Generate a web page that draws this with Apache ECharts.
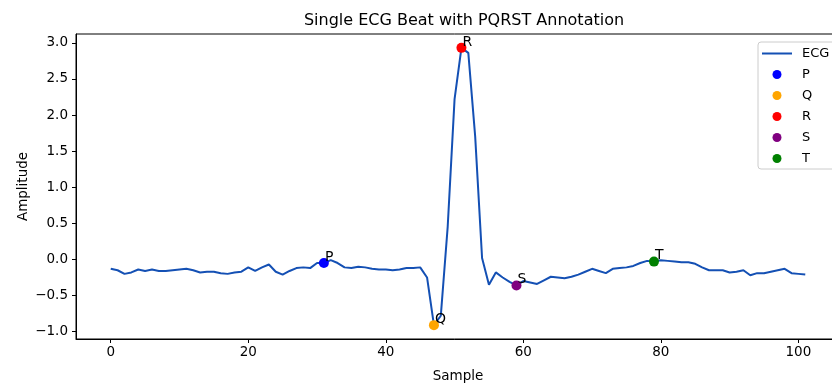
<!DOCTYPE html>
<html>
<head>
<meta charset="utf-8">
<script src="https://cdn.jsdelivr.net/npm/echarts@6/dist/echarts.min.js"></script>
<style>html,body{margin:0;padding:0;background:#fff}#c{width:832px;height:383px}</style>
</head>
<body>
<div id="c"></div>
<script>
// ECG amplitude per sample (sample index = position in array, 0..101)
const ecgValues = [
  -0.13, -0.15, -0.20, -0.18, -0.14, -0.16, -0.14, -0.16, -0.16, -0.15,
  -0.14, -0.13, -0.15, -0.18, -0.17, -0.17, -0.19, -0.20, -0.18, -0.17,
  -0.11, -0.16, -0.11, -0.07, -0.17, -0.21, -0.16, -0.12, -0.11, -0.12,
  -0.05, -0.05, -0.01, -0.05, -0.11, -0.12, -0.10, -0.11, -0.13, -0.14,
  -0.14, -0.15, -0.14, -0.12, -0.12, -0.11, -0.25, -0.91, -0.78, 0.45,
  2.22, 2.93, 2.86, 1.70, 0.02, -0.35, -0.18, -0.25, -0.31, -0.36,
  -0.30, -0.32, -0.34, -0.29, -0.24, -0.25, -0.26, -0.24, -0.21, -0.17,
  -0.13, -0.16, -0.19, -0.13, -0.12, -0.11, -0.09, -0.05, -0.02, -0.03,
  -0.01, -0.02, -0.03, -0.04, -0.04, -0.06, -0.11, -0.15, -0.15, -0.15,
  -0.18, -0.17, -0.15, -0.22, -0.19, -0.19, -0.17, -0.15, -0.13, -0.19,
  -0.20, -0.21
];
const waveNames = ['P', 'Q', 'R', 'S', 'T'];
const waveIndex = [31, 47, 51, 59, 79];
const waveColors = ['#0000ff', '#ffa500', '#ff0000', '#800080', '#008000'];
const xTicks = [0, 20, 40, 60, 80, 100];
const yTicks = [-1.0, -0.5, 0.0, 0.5, 1.0, 1.5, 2.0, 2.5, 3.0];

const FONT = 'DejaVu Sans';
const LINE_COLOR = '#1450b4';
const fmt = v => (Math.round(v * 10) / 10).toFixed(1).replace('-', '\u2212');

const series = [{
  name: 'ECG',
  type: 'line',
  data: ecgValues.map((v, i) => [i, v]),
  symbol: 'none',
  lineStyle: { color: LINE_COLOR, width: 2 },
  itemStyle: { color: LINE_COLOR },
  z: 2,
  animation: false
}];
waveNames.forEach((n, k) => {
  const idx = waveIndex[k];
  series.push({
    name: n,
    type: 'scatter',
    data: [[idx, ecgValues[idx]]],
    symbol: 'circle',
    symbolSize: 10,
    itemStyle: { color: waveColors[k], opacity: 1 },
    label: {
      show: true,
      formatter: n,
      position: [6, 6],
      align: 'left',
      verticalAlign: 'bottom',
      color: '#000',
      fontFamily: FONT,
      fontSize: 14
    },
    z: 3,
    animation: false
  });
});

// thin horizontal band inside a 30x9 box (tiny corner triangles fix the box)
const lineIcon = 'path://M0,0L0.01,0L0,0.01Z M30,9L29.99,9L30,8.99Z M0,3.5L30,3.5L30,5.5L0,5.5Z';

const chart = echarts.init(document.getElementById('c'), null, { renderer: 'canvas' });
chart.setOption({
  animation: false,
  backgroundColor: '#fff',
  title: {
    text: 'Single ECG Beat with PQRST Annotation',
    left: 459, top: 8, textAlign: 'center',
    textStyle: { fontFamily: FONT, fontSize: 16, fontWeight: 'normal', color: '#000' }
  },
  legend: {
    orient: 'vertical',
    left: 758, top: 42,
    padding: [5, 50, 4, 4],
    itemWidth: 30, itemHeight: 9, itemGap: 8,
    borderColor: '#cccccc', borderWidth: 1, borderRadius: 3,
    textStyle: { fontFamily: FONT, fontSize: 13, color: '#000', padding: [0, 0, 0, 5] },
    data: [{ name: 'ECG', icon: lineIcon, itemStyle: { color: LINE_COLOR } }]
      .concat(waveNames.map(n => ({ name: n, icon: 'circle' })))
  },
  grid: {
    left: 76, top: 34, width: 764, height: 305,
    show: true, borderColor: '#000', borderWidth: 1,
    containLabel: false, outerBoundsMode: 'none'
  },
  xAxis: {
    type: 'value', min: -5.05, max: 106.05,
    name: 'Sample', nameLocation: 'middle', nameGap: 30, nameMoveOverlap: false,
    nameTextStyle: { fontFamily: FONT, fontSize: 13.5, color: '#000' },
    axisLine: { show: true, onZero: false, lineStyle: { color: '#000' } },
    axisTick: { show: true, inside: false, length: 4, customValues: xTicks, lineStyle: { color: '#000' } },
    axisLabel: { customValues: xTicks, fontFamily: FONT, fontSize: 13.5, color: '#000', margin: 6 },
    splitLine: { show: false }
  },
  yAxis: {
    type: 'value', min: -1.102, max: 3.122,
    name: 'Amplitude', nameLocation: 'middle', nameGap: 46, nameRotate: 90, nameMoveOverlap: false,
    nameTextStyle: { fontFamily: FONT, fontSize: 13.5, color: '#000' },
    axisLine: { show: true, onZero: false, lineStyle: { color: '#000' } },
    axisTick: { show: true, inside: false, length: 4, customValues: yTicks, lineStyle: { color: '#000' } },
    axisLabel: { customValues: yTicks, formatter: fmt, fontFamily: FONT, fontSize: 13.5, color: '#000', margin: 8 },
    splitLine: { show: false }
  },
  series: series
});
</script>
</body>
</html>
